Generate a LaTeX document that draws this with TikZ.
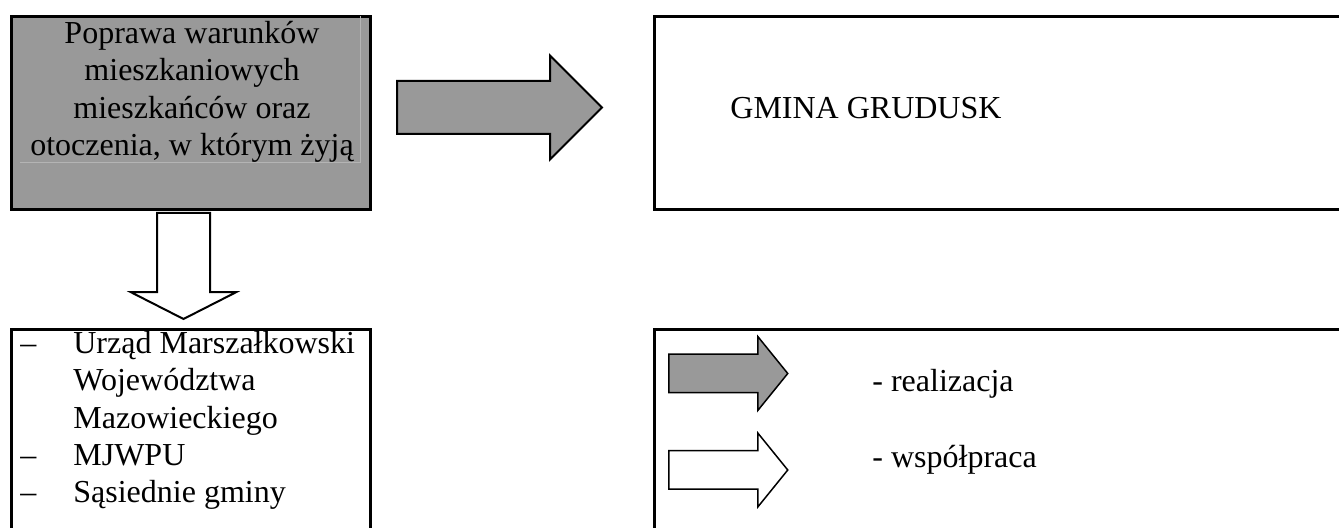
\documentclass[tikz,border=0pt]{standalone}
\usepackage{fontspec}
\setmainfont{Liberation Serif}
\usetikzlibrary{shapes.arrows}
\definecolor{szary}{RGB}{153,153,153}
\definecolor{jasny}{RGB}{180,180,180}
\newcommand{\myslnik}{\makebox[26.5pt][l]{--}}
\newcommand{\wciecie}{\makebox[26.5pt][l]{}}

\begin{document}
\begin{tikzpicture}[x=0.5pt, y=-0.5pt,
	kasten/.style={draw, line width=1.5pt, rectangle, anchor=north west, inner sep=0pt},
	pfeil/.style={draw, single arrow, anchor=tail, inner sep=0pt, line width=1pt},
	schrift/.style={inner sep=0pt, font=\fontsize{16pt}{18.65pt}\selectfont}]
	% Rahmen
	\useasboundingbox (0,0) rectangle (1339,528);
	% Ziel oben links
	\node[kasten, fill=szary, minimum width=179.5pt, minimum height=96.5pt] (cel) at (10,15) {};
	\draw[jasny, line width=0.5pt] (20,163) -- (360,163) -- (360,16);
	\node[schrift, align=center, anchor=north] (celtext) at (192,21) {Poprawa warunków\\mieszkaniowych\\mieszkańców oraz\\otoczenia, w którym żyją};
	% Gemeinde oben rechts
	\node[kasten, minimum width=355pt, minimum height=96.5pt] (gmina) at (653,15) {};
	\node[schrift, anchor=base west] (gminatext) at (730,119) {GMINA GRUDUSK};
	% Pfeile
	\node[pfeil, fill=szary, minimum height=102.5pt, inner ysep=12.75pt, single arrow head extend=12.75pt, single arrow tip angle=90] (realizacja) at (396,107.5) {};
	\node[pfeil, fill=white, rotate=-90, minimum height=53pt, inner ysep=12.75pt, single arrow head extend=13pt, single arrow tip angle=126] (wspolpraca) at (183.5,212) {};
	% Partner unten links
	\node[kasten, minimum width=179.5pt, minimum height=110pt] (partnerzy) at (10,328) {};
	\node[schrift, align=left, anchor=north west] (partnerzytext) at (20,331) {\myslnik Urząd Marszałkowski\\\wciecie Województwa\\\wciecie Mazowieckiego\\\myslnik MJWPU\\\myslnik Sąsiednie gminy};
	% Legende
	\node[kasten, minimum width=355pt, minimum height=110pt] (legenda) at (653,328) {};
	\node[pfeil, line width=0.75pt, fill=szary, minimum height=59.5pt, inner ysep=9.25pt, single arrow head extend=8.75pt, single arrow tip angle=102] (legrealizacja) at (668,373.5) {};
	\node[pfeil, line width=0.75pt, fill=white, minimum height=59.5pt, inner ysep=9.25pt, single arrow head extend=8.75pt, single arrow tip angle=102] (legwspolpraca) at (668,470) {};
	\node[schrift, anchor=base west] (legrealizacjatext) at (872,392) {- realizacja};
	\node[schrift, anchor=base west] (legwspolpracatext) at (872,468) {- współpraca};
\end{tikzpicture}
\end{document}
